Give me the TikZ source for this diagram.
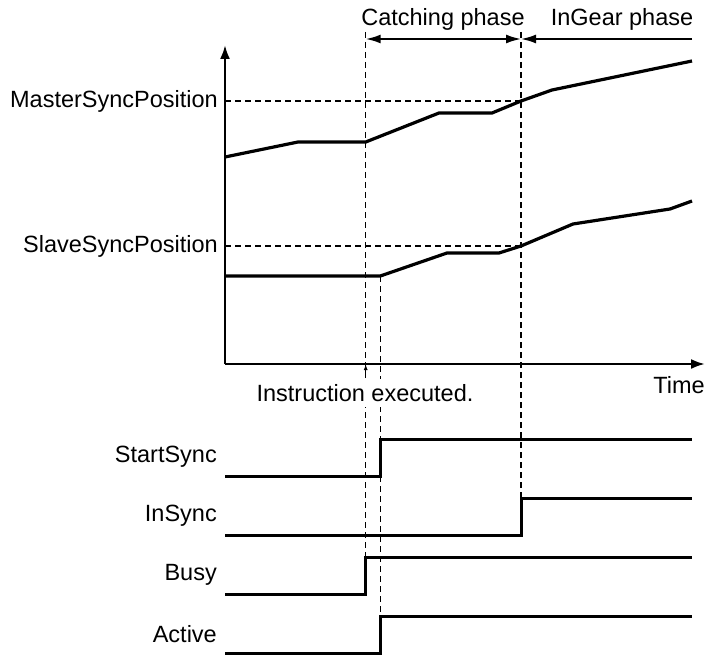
\documentclass[tikz,border=0pt]{standalone}
\usepackage{fontspec}
\setmainfont{Liberation Sans}
\usetikzlibrary{arrows.meta,positioning}

\begin{document}
\begin{tikzpicture}[
  x=1pt, y=-1pt,
  axis/.style={line width=2.4pt, -{Latex[length=14pt,width=10pt]}},
  curve/.style={line width=3.2pt, line join=miter},
  signal/.style={line width=3pt},
  guide/.style={line width=1.2pt, dash pattern=on 6pt off 4pt},
  phase/.style={line width=2pt},
  tip/.style={line width=1.2pt, -{Latex[length=6pt,width=4pt]}},
  siglabel/.style={anchor=east, inner sep=0pt, font=\fontsize{23.5}{26}\selectfont},
  txt/.style={inner sep=0pt, font=\fontsize{23.5}{26}\selectfont}
]
\useasboundingbox (0,0) rectangle (706,655);

% key instants
\coordinate (exec) at (365.7,364);
\coordinate (start) at (380.3,364);
\coordinate (gear) at (521,364);
\coordinate (origin) at (225,364);
\coordinate (ytop) at (225,45);
\coordinate (xend) at (705,364);

% guide lines
\draw[guide] (365.7,32) -- (365.7,557);
\draw[guide] (380.3,276) -- (380.3,616);
\draw[guide] (521,32) -- (521,498);

% phases
\node[txt] (catching) at (443,19) {Catching phase};
\node[txt] (ingear) at (622,19) {InGear phase};
\coordinate (catchl) at (365.7,39);
\coordinate (catchr) at (521,39);
\coordinate (gearr) at (692,39);
\draw[phase, {Latex[length=15pt,width=9pt]}-{Latex[length=15pt,width=9pt]}] (catchl) -- (catchr);
\draw[phase, -{Latex[length=15pt,width=9pt]}] (gearr) -- (catchr);

% axes
\draw[axis] (origin) -- (ytop);
\draw[axis] (origin) -- (xend);
\node[txt] (time) at (679,385) {Time};
\node[txt, fill=white, inner xsep=2pt, inner ysep=5pt] (instr) at (365,393) {Instruction executed.};
\draw[tip] (365.7,378) -- (exec);

% sync positions
\node[siglabel] (master) at (218,101) {MasterSyncPosition};
\node[siglabel] (slave) at (218,246) {SlaveSyncPosition};
\coordinate (mpos) at (521,101);
\coordinate (spos) at (521,246);
\draw[guide] (origin |- master) -- (mpos);
\draw[guide] (origin |- slave) -- (spos);

\draw[curve] (225,157) -- (298,142) -- (365.7,142) -- (439,113) -- (492,113)
  -- (mpos) -- (552,90) -- (692,61);
\draw[curve] (225,276) -- (380.3,276) -- (447,253) -- (499,253)
  -- (spos) -- (573,224) -- (670,209) -- (692,201);

% signals
\node[siglabel] (startsync) at (217,457) {StartSync};
\node[siglabel] (insync) at (217,516) {InSync};
\node[siglabel] (busy) at (217,575) {Busy};
\node[siglabel] (active) at (217,634) {Active};

\draw[signal] (225,476) -- (380.3,476) -- (380.3,439) -- (692,439);
\draw[signal] (225,535) -- (521,535) -- (521,498) -- (692,498);
\draw[signal] (225,594) -- (365.7,594) -- (365.7,557) -- (692,557);
\draw[signal] (225,653) -- (380.3,653) -- (380.3,616) -- (692,616);
\end{tikzpicture}
\end{document}
